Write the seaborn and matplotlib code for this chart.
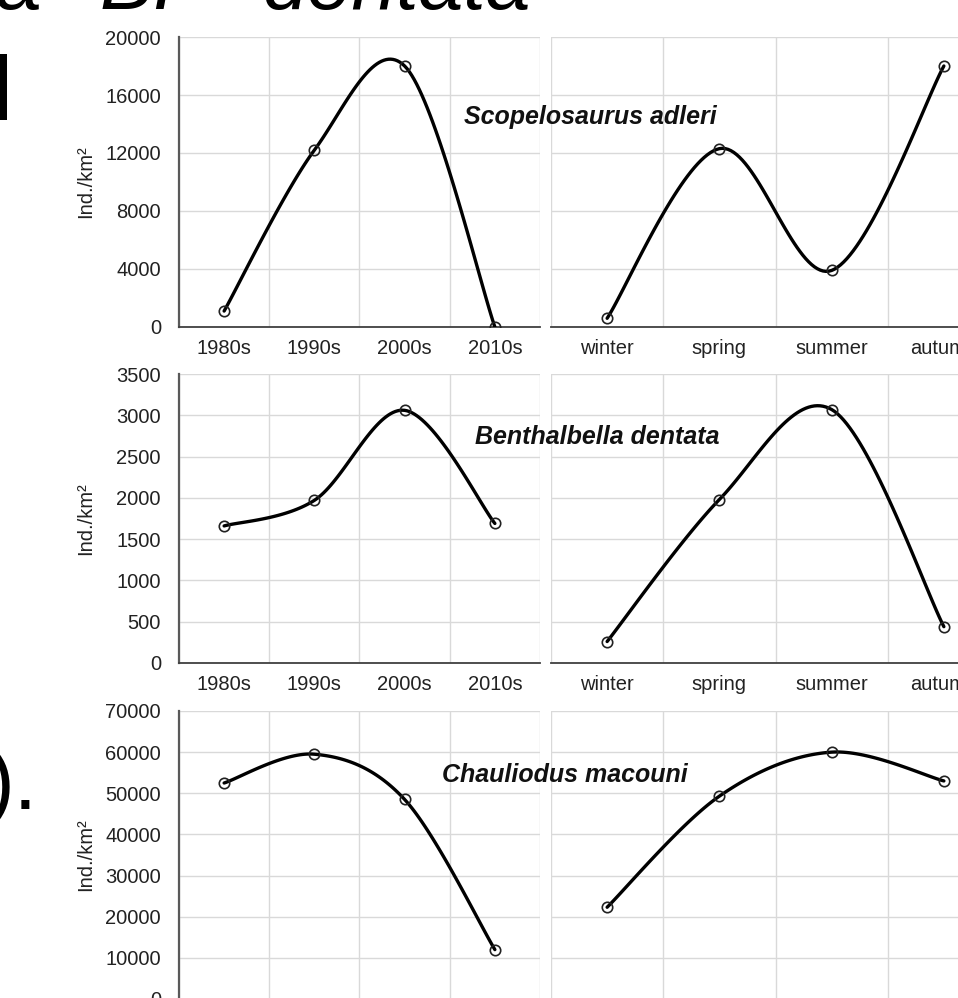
import numpy as np
import pandas as pd
import seaborn as sns
import matplotlib.pyplot as plt

# categories
decades = ["1980s", "1990s", "2000s", "2010s"]
seasons = ["winter", "spring", "summer", "autumn"]
species = ["Scopelosaurus adleri", "Benthalbella dentata", "Chauliodus macouni"]

# abundance values (Ind./km2)
scop_decade = [1100, 12200, 18000, 0]
scop_season = [600, 12300, 3900, 18000]
bent_decade = [1660, 1970, 3060, 1690]
bent_season = [260, 1980, 3070, 440]
chau_decade = [52500, 59500, 48500, 12000]
chau_season = [22300, 49300, 60000, 53000]

y_max = [20000, 3500, 70000]
y_step = [4000, 500, 10000]

sns.set_style("white")
plt.rcParams["font.family"] = ["Liberation Sans", "DejaVu Sans"]

W, H = 958, 998


def box(x0, y0, x1, y1):
    return [x0 / W, 1 - y1 / H, (x1 - x0) / W, (y1 - y0) / H]


def smooth(xs, ys, n=40):
    # excel-like smoothed line (bezier through the points)
    p = np.column_stack([xs, ys]).astype(float)
    ext = np.vstack([p[0], p, p[-1]])
    t = np.linspace(0, 1, n)[:, None]
    out = []
    for i in range(len(p) - 1):
        p0, p1, p2, p3 = ext[i], ext[i + 1], ext[i + 2], ext[i + 3]
        c1 = p1 + (p2 - p0) / 6
        c2 = p2 - (p3 - p1) / 6
        seg = (1 - t) ** 3 * p1 + 3 * (1 - t) ** 2 * t * c1 + 3 * (1 - t) * t ** 2 * c2 + t ** 3 * p2
        out.append(seg if i == 0 else seg[1:])
    return np.vstack(out)


fig = plt.figure(figsize=(W / 100, H / 100), dpi=100)

rows_y = [(37, 327), (374, 663), (711, 999)]
panels = [(scop_decade, scop_season), (bent_decade, bent_season), (chau_decade, chau_season)]
label_pos = [(590, 117), (597, 437), (565, 775)]

for r, (vals_l, vals_r) in enumerate(panels):
    y0, y1 = rows_y[r]
    for side, vals, cats, xr in [("l", vals_l, decades, (179, 540)),
                                 ("r", vals_r, seasons, (551, 1000))]:
        ax = fig.add_axes(box(xr[0], y0, xr[1], y1))
        pos = np.arange(len(cats)) + 0.5
        curve = smooth(pos, vals)
        df_curve = pd.DataFrame({"x": curve[:, 0], "y": curve[:, 1]})
        df_pts = pd.DataFrame({"x": pos, "y": vals})
        sns.lineplot(data=df_curve, x="x", y="y", sort=False, estimator=None,
                     color="black", linewidth=2.4, ax=ax, zorder=3)
        sns.lineplot(data=df_pts, x="x", y="y", estimator=None, linestyle="",
                     marker="o", markersize=7.5, markerfacecolor="none",
                     markeredgecolor="#222222", markeredgewidth=1.2, ax=ax, zorder=4)
        ax.set_xlim(0, 4)
        ax.set_ylim(0, y_max[r])
        ax.set_yticks(np.arange(0, y_max[r] + 1, y_step[r]))
        ax.set_xticks(pos)
        ax.set_xticklabels(cats)
        ax.set_xticks([0, 1, 2, 3, 4], minor=True)
        ax.grid(True, which="major", axis="y", color="#d9d9d9", linewidth=1)
        ax.grid(True, which="minor", axis="x", color="#d9d9d9", linewidth=1)
        ax.set_axisbelow(True)
        ax.tick_params(which="both", length=0, labelsize=14.5, colors="#222222")
        ax.tick_params(axis="x", pad=9)
        ax.tick_params(axis="y", pad=13)
        ax.set_xlabel("")
        for s in ["top", "right"]:
            ax.spines[s].set_visible(False)
        ax.spines["bottom"].set_color("#404040")
        ax.spines["bottom"].set_linewidth(1.3)
        if side == "l":
            ax.spines["left"].set_color("#595959")
            ax.spines["left"].set_linewidth(1.6)
            ax.set_ylabel("Ind./km²", fontsize=14.5, color="#222222")
            ax.yaxis.set_label_coords(-0.233, 0.5)
        else:
            ax.spines["left"].set_visible(False)
            ax.tick_params(axis="y", labelleft=False)
            ax.set_ylabel("")

    lx, ly = label_pos[r]
    fig.text(lx / W, 1 - ly / H, species[r], ha="center", va="center",
             fontsize=18, fontweight="bold", fontstyle="italic", color="#111111", zorder=10)

# fragments of the surrounding page text
fig.text(-6 / W, 1 - 9 / H, "a", fontsize=58, va="baseline", color="black")
fig.text(100 / W, 1 - 9 / H, "B.", fontsize=58, va="baseline", fontstyle="italic", color="black")
fig.text(262 / W, 1 - 9 / H, "dentata", fontsize=58, va="baseline", fontstyle="italic", color="black")
fig.text(-7 / W, 1 - 120 / H, "l", fontsize=65, va="baseline", color="black")
fig.text(-14 / W, 1 - 809 / H, ").", fontsize=60, va="baseline", color="black")

fig.savefig("out.png", dpi=100)
